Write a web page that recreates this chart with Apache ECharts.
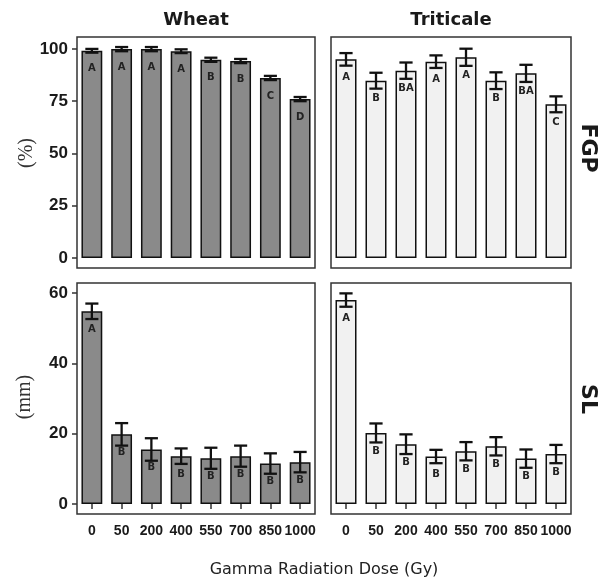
<!DOCTYPE html>
<html>
<head>
<meta charset="utf-8">
<script src="https://cdn.jsdelivr.net/npm/echarts@6/dist/echarts.min.js"></script>
<style>
  html, body { margin: 0; padding: 0; background: #fff; }
  #chart { width: 603px; height: 586px; }
</style>
</head>
<body>
<div id="chart"></div>
<script>
var doses = ["0", "50", "200", "400", "550", "700", "850", "1000"];

// FGP (%)
var wheatFgp = [99.1, 99.9, 99.9, 98.9, 94.8, 94.2, 86.1, 76.0];
var wheatFgpErr = [0.9, 1.0, 1.0, 0.9, 1.0, 1.0, 1.0, 1.0];
var wheatFgpLetters = ["A", "A", "A", "A", "B", "B", "C", "D"];
var tritFgp = [95.0, 84.8, 89.6, 93.9, 96.0, 84.8, 88.3, 73.5];
var tritFgpErr = [3.0, 3.8, 3.9, 3.0, 4.1, 4.0, 4.1, 3.8];
var tritFgpLetters = ["A", "B", "BA", "A", "A", "B", "BA", "C"];

// SL (mm)
var wheatSl = [54.8, 19.8, 15.5, 13.6, 13.0, 13.6, 11.5, 11.9];
var wheatSlErr = [2.2, 3.2, 3.2, 2.2, 3.0, 3.0, 2.9, 2.9];
var wheatSlLetters = ["A", "B", "B", "B", "B", "B", "B", "B"];
var tritSl = [58.0, 20.2, 17.0, 13.5, 15.0, 16.4, 12.9, 14.2];
var tritSlErr = [1.9, 2.7, 2.8, 1.9, 2.6, 2.6, 2.6, 2.6];
var tritSlLetters = ["A", "B", "B", "B", "B", "B", "B", "B"];

var fgpTicks = [0, 25, 50, 75, 100];
var slTicks = [0, 20, 40, 60];

var ink = "#1a1a1a";
var boxColor = "#333";

var chart = echarts.init(document.getElementById("chart"), null, { renderer: "canvas" });

function errData(vals, errs) {
  return vals.map(function (v, i) { return [i, v - errs[i], v + errs[i]]; });
}

function renderErr(params, api) {
  var i = api.value(0);
  var lo = api.coord([i, api.value(1)]);
  var hi = api.coord([i, api.value(2)]);
  var half = api.size([1, 0])[0] * 0.22;
  var st = { stroke: "#111", lineWidth: 2.3, fill: null };
  return {
    type: "group",
    children: [
      { type: "line", shape: { x1: lo[0], y1: lo[1], x2: hi[0], y2: hi[1] }, style: st },
      { type: "line", shape: { x1: hi[0] - half, y1: hi[1], x2: hi[0] + half, y2: hi[1] }, style: st },
      { type: "line", shape: { x1: lo[0] - half, y1: lo[1], x2: lo[0] + half, y2: lo[1] }, style: st }
    ]
  };
}

function barSeries(idx, vals, letters, color) {
  return {
    type: "bar",
    xAxisIndex: idx,
    yAxisIndex: idx,
    data: vals,
    barWidth: "70%",
    itemStyle: { color: color, borderColor: "#111", borderWidth: 1.5 },
    label: {
      show: true,
      position: "insideTop",
      distance: 13,
      formatter: function (p) { return letters[p.dataIndex]; },
      fontFamily: "DejaVu Sans",
      fontWeight: "bold",
      fontSize: 10,
      color: "#222"
    },
    silent: true
  };
}

function errSeries(idx, vals, errs) {
  return {
    type: "custom",
    xAxisIndex: idx,
    yAxisIndex: idx,
    data: errData(vals, errs),
    renderItem: renderErr,
    z: 5,
    silent: true
  };
}

var grids = [
  { left: 77, top: 37, width: 238, height: 231 },
  { left: 331, top: 37, width: 240, height: 231 },
  { left: 77, top: 283, width: 238, height: 231 },
  { left: 331, top: 283, width: 240, height: 231 }
].map(function (g) {
  return Object.assign({ show: true, borderColor: boxColor, borderWidth: 1.5, backgroundColor: "#fff" }, g);
});

function xAxis(idx, showLabels) {
  return {
    type: "category",
    gridIndex: idx,
    data: doses,
    axisLine: { show: false },
    axisTick: { show: showLabels, alignWithLabel: true, interval: 0, length: 5, lineStyle: { color: boxColor, width: 1.5 } },
    axisLabel: {
      show: showLabels,
      interval: 0,
      hideOverlap: false,
      margin: 10,
      fontFamily: "Liberation Sans",
      fontWeight: "bold",
      fontSize: 14,
      color: ink
    }
  };
}

function yAxis(idx, min, max, ticks, showLabels) {
  return {
    type: "value",
    gridIndex: idx,
    min: min,
    max: max,
    splitLine: { show: false },
    axisLine: { show: false },
    axisTick: { show: showLabels, length: 5, customValues: ticks, lineStyle: { color: boxColor, width: 1.5 } },
    axisLabel: {
      show: showLabels,
      customValues: ticks,
      margin: 9,
      fontFamily: "Liberation Sans",
      fontWeight: "bold",
      fontSize: 17,
      color: ink
    }
  };
}

var option = {
  animation: false,
  backgroundColor: "#fff",
  grid: grids,
  xAxis: [xAxis(0, false), xAxis(1, false), xAxis(2, true), xAxis(3, true)],
  yAxis: [
    yAxis(0, -4.8, 105.7, fgpTicks, true),
    yAxis(1, -4.8, 105.7, fgpTicks, false),
    yAxis(2, -2.85, 62.85, slTicks, true),
    yAxis(3, -2.85, 62.85, slTicks, false)
  ],
  series: [
    barSeries(0, wheatFgp, wheatFgpLetters, "#8a8a8a"),
    errSeries(0, wheatFgp, wheatFgpErr),
    barSeries(1, tritFgp, tritFgpLetters, "#f1f1f1"),
    errSeries(1, tritFgp, tritFgpErr),
    barSeries(2, wheatSl, wheatSlLetters, "#8a8a8a"),
    errSeries(2, wheatSl, wheatSlErr),
    barSeries(3, tritSl, tritSlLetters, "#f1f1f1"),
    errSeries(3, tritSl, tritSlErr)
  ],
  graphic: [
    { type: "text", x: 196, y: 20, style: { text: "Wheat", textAlign: "center", textVerticalAlign: "middle", font: "bold 18px 'DejaVu Sans'", fill: ink } },
    { type: "text", x: 451, y: 20, style: { text: "Triticale", textAlign: "center", textVerticalAlign: "middle", font: "bold 18px 'DejaVu Sans'", fill: ink } },
    { type: "text", x: 588, y: 148, rotation: -Math.PI / 2, style: { text: "FGP", textAlign: "center", textVerticalAlign: "middle", font: "bold 22px 'DejaVu Sans'", fill: ink } },
    { type: "text", x: 588, y: 399, rotation: -Math.PI / 2, style: { text: "SL", textAlign: "center", textVerticalAlign: "middle", font: "bold 22px 'DejaVu Sans'", fill: ink } },
    { type: "text", x: 27, y: 153, rotation: Math.PI / 2, style: { text: "(%)", textAlign: "center", textVerticalAlign: "middle", font: "20px 'Liberation Serif'", fill: "#333" } },
    { type: "text", x: 25, y: 397, rotation: Math.PI / 2, style: { text: "(mm)", textAlign: "center", textVerticalAlign: "middle", font: "20px 'Liberation Serif'", fill: "#333" } },
    { type: "text", x: 324, y: 570, style: { text: "Gamma Radiation Dose (Gy)", textAlign: "center", textVerticalAlign: "middle", font: "16px 'DejaVu Sans'", fill: "#222" } }
  ]
};

chart.setOption(option);
</script>
</body>
</html>
